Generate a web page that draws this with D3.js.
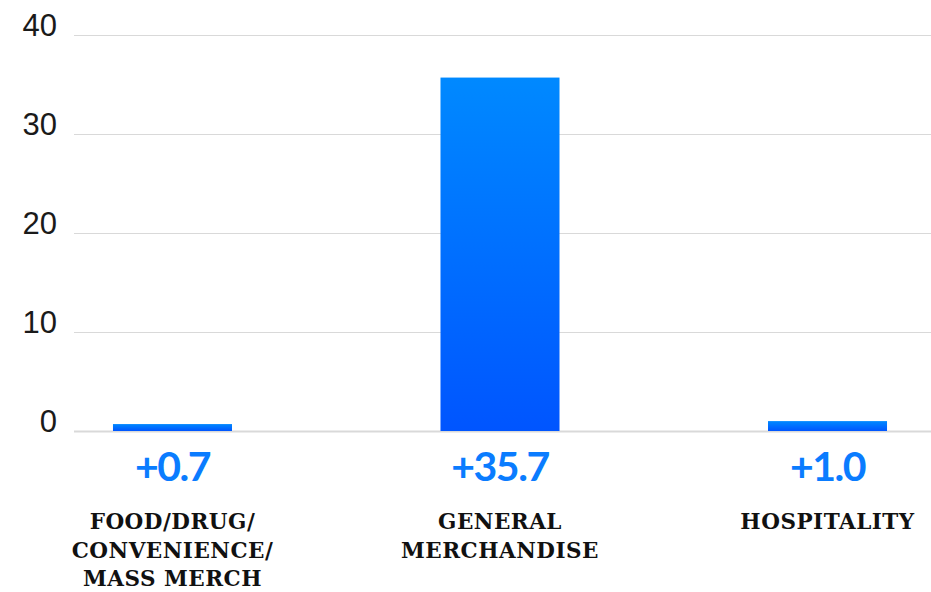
<!DOCTYPE html>
<html>
<head>
<meta charset="utf-8">
<script src="https://cdn.jsdelivr.net/npm/d3@7/dist/d3.min.js"></script>
<style>
  html, body { margin: 0; padding: 0; background: #ffffff; }
  svg { display: block; }
</style>
</head>
<body>
<script>
// Retail segments and their year-over-year change
const categories = ["FOOD/DRUG/ CONVENIENCE/ MASS MERCH", "GENERAL MERCHANDISE", "HOSPITALITY"];
const categoryLines = [["FOOD/DRUG/", "CONVENIENCE/", "MASS MERCH"], ["GENERAL", "MERCHANDISE"], ["HOSPITALITY"]];
const changeValues = [0.7, 35.7, 1.0];
const valueLabels = ["+0.7", "+35.7", "+1.0"];
const yTicks = [0, 10, 20, 30, 40];

const width = 931, height = 592;
const svg = d3.select("body").append("svg")
  .attr("width", width).attr("height", height);

const plotLeft = 74, plotRight = 931;

const x = d3.scaleBand()
  .domain(categories)
  .range([74, 926])
  .paddingInner(0.6366)
  .paddingOuter(0.119);

const y = d3.scaleLinear()
  .domain([0, 40])
  .range([431, 35]);

// Vertical gradient used by every bar
const defs = svg.append("defs");
const grad = defs.append("linearGradient")
  .attr("id", "barGrad")
  .attr("x1", 0).attr("y1", 0).attr("x2", 0).attr("y2", 1);
grad.append("stop").attr("offset", "0%").attr("stop-color", "#0089ff");
grad.append("stop").attr("offset", "100%").attr("stop-color", "#0055ff");

// Y axis with full-width gridlines
const yAxis = svg.append("g")
  .attr("transform", `translate(${plotLeft},0)`)
  .call(d3.axisLeft(y)
    .tickValues(yTicks)
    .tickFormat(d3.format("d"))
    .tickSizeInner(-(plotRight - plotLeft))
    .tickSizeOuter(0)
    .tickPadding(17));
yAxis.select(".domain").remove();
yAxis.selectAll(".tick line")
  .attr("stroke", "#d9d9d9")
  .attr("stroke-width", d => d === 0 ? 2 : 1);
yAxis.selectAll(".tick text")
  .attr("dy", "0.02em")
  .attr("fill", "#1a1a1a")
  .style("font-family", "'Liberation Sans', Arial, sans-serif")
  .style("font-size", "31px");

// Bars
svg.append("g").selectAll("rect")
  .data(categories)
  .join("rect")
  .attr("x", d => x(d))
  .attr("width", x.bandwidth())
  .attr("y", (d, i) => y(changeValues[i]))
  .attr("height", (d, i) => y(0) - y(changeValues[i]))
  .attr("fill", "url(#barGrad)");

// Value labels under the baseline
svg.append("g").selectAll("text")
  .data(categories)
  .join("text")
  .attr("x", d => x(d) + x.bandwidth() / 2)
  .attr("y", 481)
  .attr("text-anchor", "middle")
  .attr("fill", "#0a7cff")
  .style("font-family", "Lato, sans-serif")
  .style("font-weight", "700")
  .style("font-size", "41px")
  .style("letter-spacing", "-1.5px")
  .text((d, i) => valueLabels[i]);

// Category names
const catG = svg.append("g");
categories.forEach((c, i) => {
  const t = catG.append("text")
    .attr("x", x(c) + x.bandwidth() / 2)
    .attr("y", 529)
    .attr("text-anchor", "middle")
    .attr("fill", "#111111")
    .style("font-family", "'DejaVu Serif', serif")
    .style("font-weight", "700")
    .style("font-size", "21.5px")
    .style("letter-spacing", "0.5px");
  categoryLines[i].forEach((line, j) => {
    t.append("tspan")
      .attr("x", x(c) + x.bandwidth() / 2)
      .attr("dy", j === 0 ? 0 : 28.5)
      .text(line);
  });
});
</script>
</body>
</html>
